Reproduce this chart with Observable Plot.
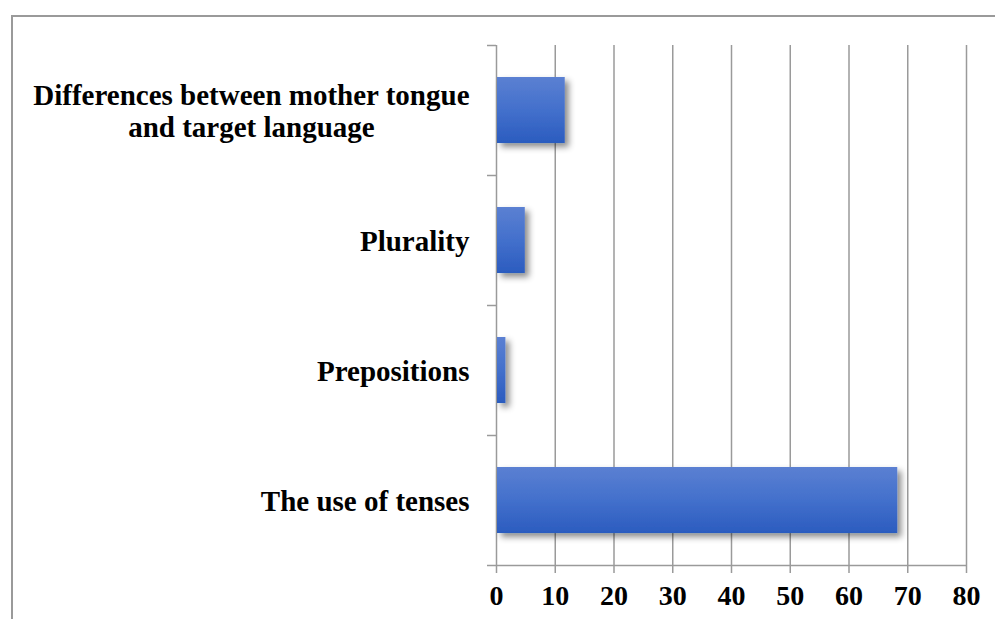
<!DOCTYPE html>
<html>
<head>
<meta charset="utf-8">
<script src="https://cdn.jsdelivr.net/npm/d3@7"></script>
<script src="https://cdn.jsdelivr.net/npm/@observablehq/plot@0.6"></script>
<style>
  html, body { margin: 0; padding: 0; background: #fff; width: 995px; height: 619px; overflow: hidden; }
  #wrap { position: relative; width: 995px; height: 619px; }
  #frame { position: absolute; left: 11px; top: 15px; width: 1000px; height: 700px;
           border-top: 2px solid #9a9a9a; border-left: 2px solid #9a9a9a; box-sizing: border-box; }
  #chart { position: absolute; left: 0; top: 0; }
</style>
</head>
<body>
<div id="wrap"><div id="frame"></div><div id="chart"></div></div>
<script>
const categories = [
  "Differences between mother tongue\nand target language",
  "Plurality",
  "Prepositions",
  "The use of tenses"
];
const values = [11.7, 4.9, 1.6, 68.3];
const xTicks = [0, 10, 20, 30, 40, 50, 60, 70, 80];
const bandTicks = [0, 1, 2, 3, 4];

const rows = categories.map((c, i) => ({category: c, value: values[i], pos: i}));
const font = "'Liberation Serif', 'Times New Roman', serif";
const gray = "#9a9a9a";

const plot = Plot.plot({
  width: 995,
  height: 619,
  marginLeft: 496,
  marginRight: 29,
  marginTop: 45,
  marginBottom: 54,
  style: {background: "none", fontFamily: font, overflow: "visible"},
  x: {domain: [0, 80], axis: null, label: null},
  y: {domain: [0, 4], reverse: true, axis: null, label: null},
  marks: [
    Plot.gridX(xTicks, {stroke: gray, strokeOpacity: 1, strokeWidth: 1.5}),
    Plot.ruleY([4], {stroke: gray, strokeWidth: 1.5}),
    Plot.axisY({ticks: bandTicks, tickSize: 9, tickFormat: () => "", label: null, stroke: gray, strokeWidth: 1.5}),
    Plot.axisX({ticks: xTicks, tickSize: 8, tickFormat: () => "", label: null, stroke: gray, strokeWidth: 1.5}),
    Plot.axisX({ticks: xTicks, tickSize: 0, tickPadding: 20, tickFormat: d => String(d), label: null,
                fontSize: 28, fontWeight: "bold", fontFamily: font, fontVariant: "normal", fill: "#000"}),
    Plot.rectX(rows, {x1: 0, x2: "value", y1: d => d.pos + 0.246, y2: d => d.pos + 0.754,
                      fill: "url(#barGrad)", insetLeft: 1}),
    Plot.text(rows, {y: d => d.pos + 0.5, text: "category", frameAnchor: "left", textAnchor: "end",
                     dx: -27, fontSize: 29, fontWeight: "bold", fontFamily: font, lineHeight: 1.12, fill: "#000"})
  ]
});

document.getElementById("chart").appendChild(plot);

// gradient + shadow definitions
const ns = "http://www.w3.org/2000/svg";
const defs = document.createElementNS(ns, "defs");
defs.innerHTML = `
  <linearGradient id="barGrad" x1="0" y1="0" x2="0" y2="1">
    <stop offset="0" stop-color="#5b80d2"/>
    <stop offset="0.5" stop-color="#4370cc"/>
    <stop offset="1" stop-color="#2b5cbf"/>
  </linearGradient>
  <filter id="barShadow" x="-20%" y="-20%" width="150%" height="150%">
    <feDropShadow dx="4" dy="4" stdDeviation="3" flood-color="#000" flood-opacity="0.45"/>
  </filter>`;
plot.insertBefore(defs, plot.firstChild);
plot.querySelectorAll('g[fill^="url"]').forEach(g => g.setAttribute("filter", "url(#barShadow)"));

// center multi-line category labels (right edge aligned to the axis gap)
plot.querySelectorAll("text").forEach(t => {
  const spans = t.querySelectorAll("tspan");
  if (spans.length > 1) {
    let maxW = 0;
    spans.forEach(s => { maxW = Math.max(maxW, s.getComputedTextLength()); });
    t.setAttribute("text-anchor", "middle");
    spans.forEach(s => s.setAttribute("x", -maxW / 2));
  }
});
</script>
</body>
</html>
